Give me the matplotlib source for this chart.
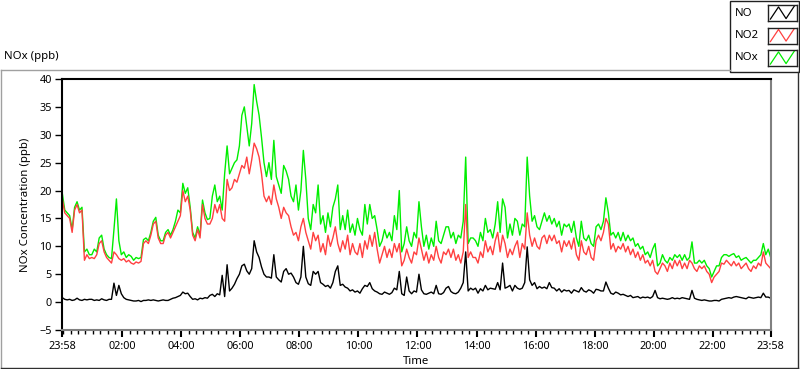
import numpy as np
import matplotlib
matplotlib.use("Agg")
import matplotlib.pyplot as plt
from matplotlib.lines import Line2D
from matplotlib.patches import Rectangle

plt.rcParams["font.family"] = ["Noto Sans", "DejaVu Sans"]

# 5-minute samples, minutes after 23:58 (one per list entry, 289 in total)
STEP_MIN = 5

# NO2 (ppb), one row per hour after 23:58
no2 = [
    18.5, 16, 15.5, 15, 12.5, 16.5, 17.5, 16, 16.5, 7.5, 8.5, 7.8,
    8, 7.8, 8.5, 10.5, 11, 9, 8, 7.5, 7, 9, 8.5, 7.8,
    7.5, 7.8, 7.2, 7.5, 7, 6.8, 7.2, 7, 7.3, 10.5, 11, 10.5,
    12, 14, 14.5, 11.5, 10.5, 10.5, 12, 12.5, 11.5, 12.5, 13.5, 14.5,
    15.5, 20, 18, 19, 16.5, 12, 11, 13, 11.5, 17.5, 15, 14,
    14, 15, 17.5, 16, 17.5, 15, 14.5, 22, 20, 20.5, 22, 21.5,
    23, 24.5, 24, 26, 23, 25.5, 28.5, 27.5, 26, 23, 19, 18,
    19, 17.5, 21, 18.5, 17, 15, 17, 16, 15.5, 13.5, 12, 12.5,
    11, 13.5, 15, 12.5, 11, 9.5, 12.5, 11, 12, 9, 10.5, 8.5,
    12, 10, 11.5, 13.5, 10.5, 9, 11, 9.5, 12, 8.5, 10.5, 9,
    8.5, 10.5, 8, 11, 9.5, 12, 10, 12.5, 9.5, 7, 8.5, 10,
    8, 9.5, 8, 10.5, 9, 10.5, 6.5, 7.5, 9.5, 8, 7, 9,
    8.5, 11.5, 9.5, 7.5, 9, 7, 8.5, 7.5, 10, 8, 7, 9,
    8.5, 9.5, 8, 9.5, 7.5, 8.5, 7, 9, 17.5, 8, 9, 8,
    8, 7, 9, 8, 11, 9, 10, 8.5, 11, 12.5, 9, 12,
    10.5, 8, 9.5, 8.5, 10, 11, 8, 10.5, 9.5, 16, 12, 10,
    11.5, 10, 9.5, 11.5, 12, 10.5, 12, 11, 12, 10.5, 11, 9,
    11, 10, 11, 9.5, 11.5, 8.5, 7.5, 11, 9, 8.5, 10, 8,
    7.5, 11, 12, 11, 12.5, 15, 14, 9.5, 10.5, 9, 10, 9.5,
    10.5, 9, 10, 8.5, 9.5, 8, 9, 7.5, 8.5, 7, 7.5, 6.5,
    7.5, 5.5, 5, 6, 7, 6.5, 5.5, 7, 6, 7.5, 6.5, 7.5,
    6, 7, 6, 7.5, 7, 6, 5.5, 6.5, 6, 6.5, 5.5, 5,
    3.5, 4.5, 5, 5.5, 7, 6.8, 7.5, 7, 6.5, 7.3, 6.5, 7,
    6, 6.5, 7, 6, 5.5, 6.5, 6, 7, 6.5, 9, 7, 6.5,
    6,
]

# NOx (ppb)
nox = [
    19.5, 16.5, 16, 15.5, 13, 17, 18, 16.5, 17, 9, 9.5, 8.5,
    8.5, 9.5, 9, 11.5, 12, 9.5, 8.5, 8, 7.8, 13, 18.5, 11,
    8.5, 9, 8, 8.5, 8.2, 7.5, 8, 7.8, 8, 11.2, 11.5, 11,
    12.5, 14.5, 15.2, 12, 11, 11, 12.5, 13, 12, 13, 14.5, 16.5,
    16, 21.3, 19.5, 20.5, 17, 12.5, 11.5, 13.5, 12, 18.3, 16, 14.8,
    15, 19, 21, 18, 19, 16.5, 23, 28, 23, 24, 25, 25.5,
    28, 33.5, 35, 31.5, 28, 32, 39, 36, 33.5, 29.5, 25, 22.5,
    25, 22, 29, 22.5, 21, 19.5, 24.5, 23.5, 22, 19, 18, 21,
    16.5, 20, 27.2, 22, 15, 13, 17.5, 16, 21, 14, 15.5, 12.5,
    16, 13.5, 17, 18.5, 21, 13, 15.5, 13, 16.5, 12.5, 14, 12,
    15, 13, 12, 17.5, 14, 17.5, 15, 15.5, 13, 10, 11, 13,
    11.5, 12.5, 11, 15.5, 13, 20, 9, 10.5, 13.5, 11, 10, 12.5,
    11.5, 18, 13.5, 10, 12, 9.5, 11.5, 10, 14.5, 11, 10.5, 12,
    13.5, 13.5, 11.5, 12.5, 10.5, 12, 11.5, 14.5, 26, 10.5, 11.5, 11.5,
    11, 10, 12.5, 11, 15, 12.5, 13, 11.5, 14, 18, 12.5, 18.5,
    17, 11.5, 14, 12, 15, 14.5, 12, 14, 13.5, 26, 19, 14.5,
    15.5, 13.5, 13, 14.5, 16, 14.5, 15.5, 14, 15, 13.5, 14.5, 12,
    14, 13.5, 14, 12.5, 14.5, 11.5, 10, 14.5, 11.5, 11, 12, 10.5,
    10, 13.5, 14, 13, 14.5, 18.7, 16, 12, 12.5, 11.5, 12.5, 11,
    12.5, 11, 12, 11, 11.5, 10, 10.5, 9.5, 10, 8.5, 9, 8,
    9.5, 10.5, 6.5, 7, 8.5, 7.5, 7, 8, 7.5, 8.5, 8, 8.5,
    7.5, 8.5, 7.5, 8, 10.8, 7, 7, 7.5, 7, 7.5, 6.5, 6,
    4.5, 5.5, 6.5, 6.5, 8, 8.5, 8.5, 8.2, 8.5, 8.7, 8, 8.3,
    7.5, 7.8, 8, 7.5, 7, 7.5, 7.5, 8, 8.5, 10.5, 8.5, 9.5,
    8,
]

# NO (ppb)
no = [
    0.8, 0.5, 0.4, 0.5, 0.3, 0.4, 0.7, 0.4, 0.3, 0.5, 0.4, 0.5,
    0.5, 0.3, 0.4, 0.3, 0.6, 0.4, 0.3, 0.5, 0.5, 3.4, 1.2, 3.0,
    1.5, 0.8, 0.5, 0.4, 0.3, 0.2, 0.2, 0.3, 0.1, 0.3, 0.3, 0.4,
    0.3, 0.4, 0.3, 0.2, 0.3, 0.4, 0.3, 0.3, 0.5, 0.7, 0.8, 1.0,
    1.2, 1.8, 1.5, 1.6, 1.0, 0.5, 0.6, 0.4, 0.7, 0.6, 0.8, 0.7,
    1.2, 1.4, 1.0, 1.5, 1.3, 4.8, 1.0, 6.7, 2.0, 2.5, 3.2, 4.2,
    5, 6.5, 6.8, 5.6, 5, 6, 11, 9, 8, 6.3, 5, 4.5,
    4.5, 4.3, 8.5, 4.5, 4, 3.6, 5.5, 6, 5, 5.2, 4.5, 3.5,
    3.2, 4.5, 10, 4.5, 3.3, 3, 5.5, 5, 5.5, 3.5, 3.2, 2.8,
    3, 2.5, 3.5, 5.5, 6.5, 3, 3.2, 2.7, 2.5, 2, 2.2, 1.8,
    2, 1.6, 2.4, 3, 2.8, 3.5, 2.4, 2, 1.8, 1.5, 1.4, 1.8,
    1.6, 1.4, 1.7, 2.5, 2.2, 5.5, 1.5, 1.2, 4.5, 2, 1.5, 2,
    1.8, 5, 2.2, 1.5, 1.4, 1.6, 1.8, 1.5, 3, 1.5, 1.4, 1.7,
    2.5, 2.8, 1.9, 1.6, 1.5, 1.8, 2.5, 3.5, 9, 2, 2.5, 2.2,
    2.5, 1.6, 2.4, 2, 3, 2.2, 2.5, 2.4, 2.3, 3.5, 2.2, 7,
    2.5, 2.7, 3, 2, 3, 2.5, 2.3, 2.5, 3.5, 9.9, 4, 3,
    3.5, 2.4, 2.8, 2.5, 2.7, 2.4, 3.5, 2.6, 2.5, 2, 2.4, 1.8,
    2.2, 2, 2.1, 1.6, 2.2, 2, 1.8, 2.6, 2, 1.8, 2.2, 2,
    1.6, 2.3, 2.2, 2, 2, 3.6, 2.5, 1.6, 1.4, 1.8, 1.6, 1.3,
    1.4, 1.2, 1.0, 1.2, 0.8, 0.9, 1.0, 0.7, 0.9, 0.8, 0.9, 0.7,
    1.0, 2.1, 0.8, 0.6, 0.7, 0.6, 0.5, 0.6, 0.8, 0.6, 0.7, 0.6,
    0.8, 0.7, 0.6, 0.5, 2.1, 0.7, 0.5, 0.4, 0.3, 0.4, 0.3, 0.2,
    0.2, 0.3, 0.3, 0.2, 0.5, 0.6, 0.7, 0.8, 0.7, 0.9, 1.0, 0.9,
    0.8, 0.7, 0.6, 0.9, 0.8, 0.7, 0.8, 0.9, 0.8, 1.6, 0.9, 0.9,
    0.7,
]

tick_labels = ["23:58", "02:00", "04:00", "06:00", "08:00", "10:00", "12:00",
               "14:00", "16:00", "18:00", "20:00", "22:00", "23:58"]
series_names = ["NO", "NO2", "NOx"]
series_colors = ["#000000", "#ff4040", "#00ee00"]

minutes = np.arange(len(no2)) * STEP_MIN

W, H = 800, 369
fig = plt.figure(figsize=(W / 100, H / 100), dpi=100)
fig.patch.set_facecolor("white")

def fx(px):
    return px / W

def fy(py):
    return 1 - py / H

# outer panel frame
fig.add_artist(Line2D([fx(1), fx(730)], [fy(69.5), fy(69.5)], color="#a0a0a0", lw=1))
fig.add_artist(Line2D([fx(1), fx(1)], [fy(69.5), fy(367.5)], color="#a0a0a0", lw=1))
fig.add_artist(Line2D([fx(1), fx(797.5)], [fy(367.5), fy(367.5)], color="#303030", lw=1))
fig.add_artist(Line2D([fx(797.5), fx(797.5)], [fy(72), fy(367.5)], color="#303030", lw=1))

fig.text(fx(4), fy(57), "NOx (ppb)", fontsize=8.2, va="center", ha="left")

ax = fig.add_axes([fx(62.3), fy(330), fx(770.7) - fx(62.3), fy(79) - fy(330)])
ax.plot(minutes, nox, color=series_colors[2], lw=1.0)
ax.plot(minutes, no2, color=series_colors[1], lw=1.0)
ax.plot(minutes, no, color=series_colors[0], lw=1.0)

ax.set_xlim(0, 1440)
ax.set_ylim(-5, 40)
ax.set_yticks(np.arange(-5, 41, 5))
major = [0] + list(range(122, 1440, 120)) + [1440]
ax.set_xticks(major)
ax.set_xticklabels(tick_labels)
ax.set_xticks(np.arange(2, 1440, 15), minor=True)
ax.tick_params(axis="x", which="major", length=5, width=1.5, pad=3, labelsize=7.8)
ax.tick_params(axis="x", which="minor", length=3, width=1)
ax.tick_params(axis="y", length=5, width=1, pad=2.5, labelsize=7.8)

for side in ["top", "left"]:
    ax.spines[side].set_color("black")
    ax.spines[side].set_linewidth(1.5)
for side in ["bottom", "right"]:
    ax.spines[side].set_color("#808080")
    ax.spines[side].set_linewidth(1.5)

ax.set_ylabel("NOx Concentration (ppb)", fontsize=8.2)
ax.yaxis.set_label_coords((31.5 - 62.3) / 708.4, 0.5)
ax.set_xlabel("Time", fontsize=8.2)
ax.xaxis.set_label_coords(0.499, (330 - 362) / 251)
ax.xaxis.label.set_va("center")

# legend panel
fig.add_artist(Rectangle((fx(730), fy(72)), fx(799) - fx(730), fy(0.5) - fy(72),
                         fill=True, facecolor="white", edgecolor="#202020", lw=1,
                         zorder=-1))
for i, (name, col) in enumerate(zip(series_names, series_colors)):
    top = 5 + 22.5 * i
    fig.text(fx(735), fy(top + 8), name, fontsize=8.2, va="center", ha="left")
    sw = fig.add_axes([fx(767.5), fy(top + 16), fx(796.5) - fx(767.5), fy(top) - fy(top + 16)])
    sw.set_zorder(5)
    sw.plot([0.1, 0.38, 0.64, 0.92], [0.12, 0.88, 0.15, 0.92], color=col, lw=0.9)
    sw.set_xlim(0, 1)
    sw.set_ylim(0, 1)
    sw.set_xticks([])
    sw.set_yticks([])
    for s in sw.spines.values():
        s.set_color("#202020")
        s.set_linewidth(1)

fig.savefig("out.png", dpi=100)
